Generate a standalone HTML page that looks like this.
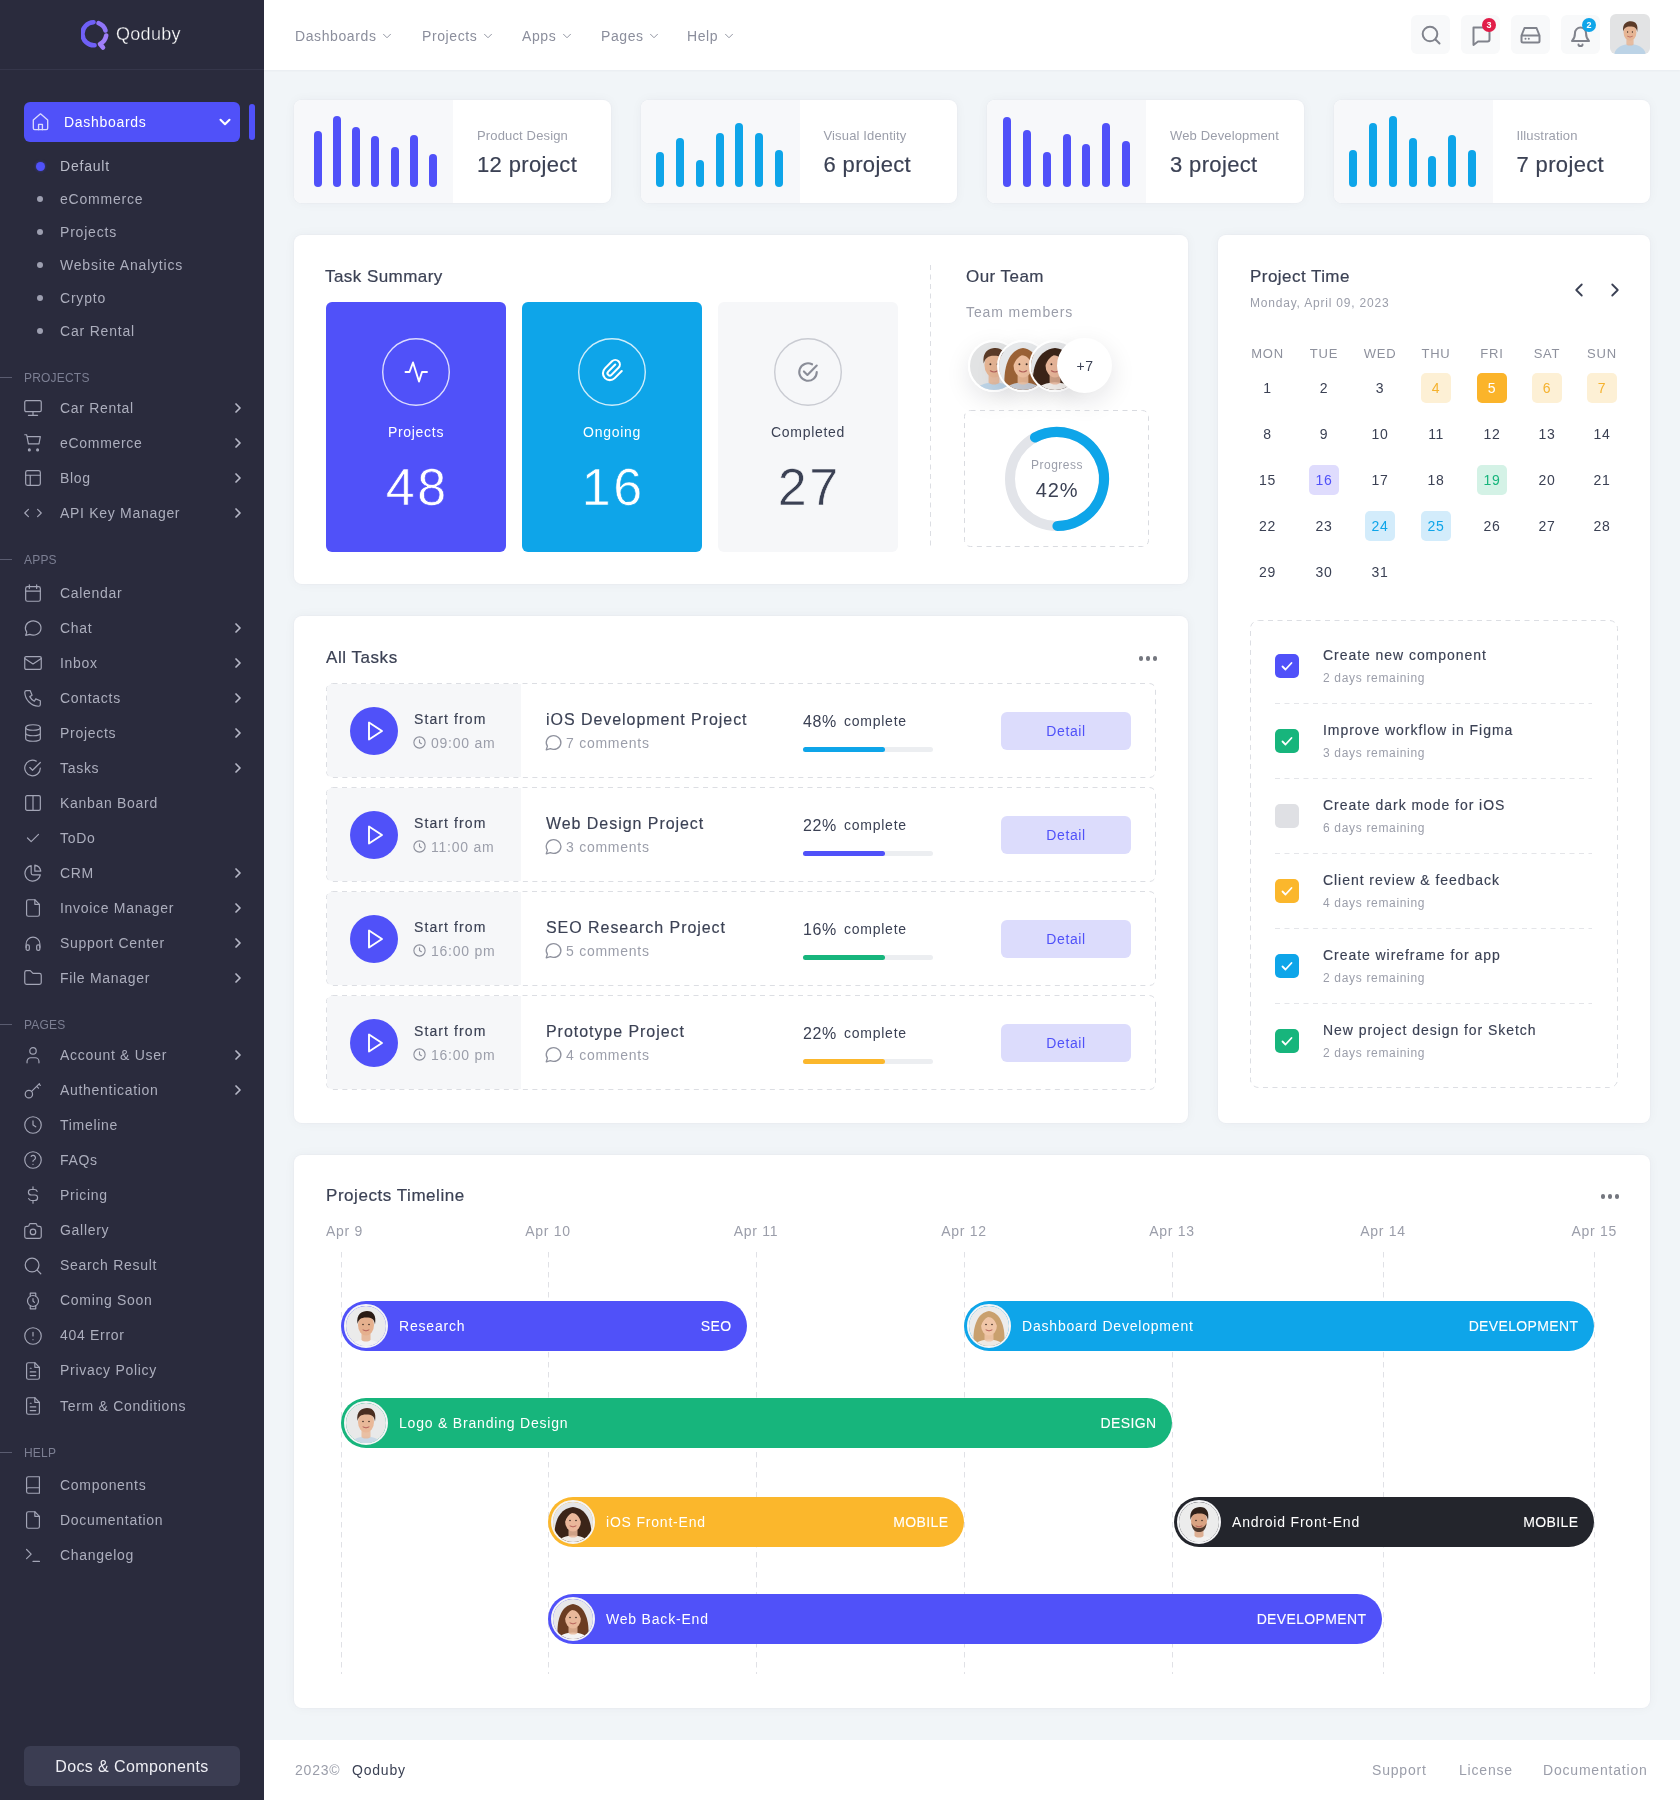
<!DOCTYPE html>
<html><head><meta charset="utf-8"><title>Qoduby Dashboard</title><style>
*{margin:0;padding:0;box-sizing:border-box}
html,body{width:1680px;height:1800px;overflow:hidden;background:#f1f5f8;font-family:"Liberation Sans",sans-serif;}
.a{position:absolute}
.t{position:absolute;white-space:nowrap}
</style></head><body>
<div id="root" style="position:absolute;left:0;top:0;width:1680px;height:1800px;will-change:transform"><div class="a" style="left:0px;top:0px;width:264px;height:1800px;background:#2a2b3d;border-radius:0px;"></div>
<div class="a" style="left:0px;top:69px;width:264px;height:1px;background:#35364a;border-radius:0px;"></div>
<svg class="a" style="left:81px;top:19px;" width="30" height="32" viewBox="0 0 30 32" fill="none"><defs><linearGradient id="lg" x1="0" y1="0" x2="1" y2="1"><stop offset="0" stop-color="#6a5cf6"/><stop offset="1" stop-color="#a07ef9"/></linearGradient></defs><path d="M12.5 3.2 A11.5 11.5 0 1 0 13.5 26.3" stroke="#6f60f7" stroke-width="4.6" stroke-linecap="round"/><path d="M17.5 4.2 A11.5 11.5 0 0 1 24.5 11.5" stroke="#8f74f8" stroke-width="4.6" stroke-linecap="round"/><path d="M25.2 16.5 A11.5 11.5 0 0 1 19 25 L22 28.5" stroke="#a07ef9" stroke-width="4.6" stroke-linecap="round" stroke-linejoin="round"/></svg>
<div class="t " style="left:116px;top:23.0px;font-size:18px;line-height:22px;color:#ffffff;letter-spacing:0.3px;-webkit-text-stroke:0.3px #2a2b3d;">Qoduby</div>
<div class="a" style="left:24px;top:102px;width:216px;height:40px;background:#5051f9;border-radius:6px;"></div>
<div class="a" style="left:249px;top:104px;width:6px;height:36px;background:#5051f9;border-radius:3px;"></div>
<svg class="a" style="left:29px;top:110px;color:#d9d9fd;" width="23" height="23" viewBox="0 0 24 24" fill="none" stroke="currentColor" stroke-width="1.4" stroke-linecap="round" stroke-linejoin="round"><path d="M4.5 10.5L12 4l7.5 6.5V19a1.5 1.5 0 0 1-1.5 1.5H6A1.5 1.5 0 0 1 4.5 19z"/><path d="M10 20.5v-5.5h4v5.5"/></svg>
<div class="t " style="left:64px;top:113.5px;font-size:14px;line-height:17px;color:#ffffff;letter-spacing:0.7px;">Dashboards</div>
<svg class="a" style="left:216px;top:113px;color:#ffffff;" width="18" height="18" viewBox="0 0 24 24" fill="none" stroke="currentColor" stroke-width="2.8" stroke-linecap="round" stroke-linejoin="round"><path d="M6 9l6 6 6-6"/></svg>
<div class="a" style="left:35.5px;top:161.5px;width:9px;height:9px;background:#5051f9;border-radius:5px;box-shadow:0 0 3px rgba(80,81,249,.5);"></div>
<div class="t " style="left:60px;top:157.5px;font-size:14px;line-height:17px;color:#b9bbc8;letter-spacing:0.8px;">Default</div>
<div class="a" style="left:37px;top:196px;width:6px;height:6px;background:#9d9fb0;border-radius:3px;"></div>
<div class="t " style="left:60px;top:190.5px;font-size:14px;line-height:17px;color:#acaebd;letter-spacing:0.8px;">eCommerce</div>
<div class="a" style="left:37px;top:229px;width:6px;height:6px;background:#9d9fb0;border-radius:3px;"></div>
<div class="t " style="left:60px;top:223.5px;font-size:14px;line-height:17px;color:#acaebd;letter-spacing:0.8px;">Projects</div>
<div class="a" style="left:37px;top:262px;width:6px;height:6px;background:#9d9fb0;border-radius:3px;"></div>
<div class="t " style="left:60px;top:256.5px;font-size:14px;line-height:17px;color:#acaebd;letter-spacing:0.8px;">Website Analytics</div>
<div class="a" style="left:37px;top:295px;width:6px;height:6px;background:#9d9fb0;border-radius:3px;"></div>
<div class="t " style="left:60px;top:289.5px;font-size:14px;line-height:17px;color:#acaebd;letter-spacing:0.8px;">Crypto</div>
<div class="a" style="left:37px;top:328px;width:6px;height:6px;background:#9d9fb0;border-radius:3px;"></div>
<div class="t " style="left:60px;top:322.5px;font-size:14px;line-height:17px;color:#acaebd;letter-spacing:0.8px;">Car Rental</div>
<div class="a" style="left:0px;top:377px;width:12px;height:1px;background:#5a5c70;border-radius:0px;"></div>
<div class="t " style="left:24px;top:371.0px;font-size:12px;line-height:14px;color:#7c7f93;letter-spacing:0.2px;">PROJECTS</div>
<svg class="a" style="left:21.5px;top:397px;color:#a3a5b6;" width="22" height="22" viewBox="0 0 24 24" fill="none" stroke="currentColor" stroke-width="1.3" stroke-linecap="round" stroke-linejoin="round"><rect x="3" y="4" width="18" height="12" rx="1.5"/><path d="M7 20h10M12 16v4"/></svg>
<div class="t " style="left:60px;top:399.5px;font-size:14px;line-height:17px;color:#acaebd;letter-spacing:0.7px;">Car Rental</div>
<svg class="a" style="left:229.5px;top:400px;color:#b5b7c6;" width="16" height="16" viewBox="0 0 24 24" fill="none" stroke="currentColor" stroke-width="2.6" stroke-linecap="round" stroke-linejoin="round"><path d="M9 6l6 6-6 6"/></svg>
<svg class="a" style="left:21.5px;top:432px;color:#a3a5b6;" width="22" height="22" viewBox="0 0 24 24" fill="none" stroke="currentColor" stroke-width="1.3" stroke-linecap="round" stroke-linejoin="round"><path d="M3 3h2l.5 2M5.5 5H20l-1.5 8H7zM7 13L5.5 5M7 13h11"/><circle cx="8" cy="19.5" r="1" fill="currentColor"/><circle cx="17" cy="19.5" r="1" fill="currentColor"/></svg>
<div class="t " style="left:60px;top:434.5px;font-size:14px;line-height:17px;color:#acaebd;letter-spacing:0.7px;">eCommerce</div>
<svg class="a" style="left:229.5px;top:435px;color:#b5b7c6;" width="16" height="16" viewBox="0 0 24 24" fill="none" stroke="currentColor" stroke-width="2.6" stroke-linecap="round" stroke-linejoin="round"><path d="M9 6l6 6-6 6"/></svg>
<svg class="a" style="left:21.5px;top:467px;color:#a3a5b6;" width="22" height="22" viewBox="0 0 24 24" fill="none" stroke="currentColor" stroke-width="1.3" stroke-linecap="round" stroke-linejoin="round"><rect x="4" y="4" width="16" height="16" rx="2"/><path d="M4 9h16M9 9v11"/></svg>
<div class="t " style="left:60px;top:469.5px;font-size:14px;line-height:17px;color:#acaebd;letter-spacing:0.7px;">Blog</div>
<svg class="a" style="left:229.5px;top:470px;color:#b5b7c6;" width="16" height="16" viewBox="0 0 24 24" fill="none" stroke="currentColor" stroke-width="2.6" stroke-linecap="round" stroke-linejoin="round"><path d="M9 6l6 6-6 6"/></svg>
<svg class="a" style="left:21.5px;top:502px;color:#a3a5b6;" width="22" height="22" viewBox="0 0 24 24" fill="none" stroke="currentColor" stroke-width="1.3" stroke-linecap="round" stroke-linejoin="round"><path d="M7 8l-4 4 4 4M17 8l4 4-4 4"/></svg>
<div class="t " style="left:60px;top:504.5px;font-size:14px;line-height:17px;color:#acaebd;letter-spacing:0.7px;">API Key Manager</div>
<svg class="a" style="left:229.5px;top:505px;color:#b5b7c6;" width="16" height="16" viewBox="0 0 24 24" fill="none" stroke="currentColor" stroke-width="2.6" stroke-linecap="round" stroke-linejoin="round"><path d="M9 6l6 6-6 6"/></svg>
<div class="a" style="left:0px;top:559px;width:12px;height:1px;background:#5a5c70;border-radius:0px;"></div>
<div class="t " style="left:24px;top:553.0px;font-size:12px;line-height:14px;color:#7c7f93;letter-spacing:0.2px;">APPS</div>
<svg class="a" style="left:21.5px;top:582px;color:#a3a5b6;" width="22" height="22" viewBox="0 0 24 24" fill="none" stroke="currentColor" stroke-width="1.3" stroke-linecap="round" stroke-linejoin="round"><rect x="4" y="5" width="16" height="16" rx="2"/><path d="M16 3v4M8 3v4M4 10h16"/></svg>
<div class="t " style="left:60px;top:584.5px;font-size:14px;line-height:17px;color:#acaebd;letter-spacing:0.7px;">Calendar</div>
<svg class="a" style="left:21.5px;top:617px;color:#a3a5b6;" width="22" height="22" viewBox="0 0 24 24" fill="none" stroke="currentColor" stroke-width="1.3" stroke-linecap="round" stroke-linejoin="round"><path d="M4 20l1.2-3.6A8.5 7.8 0 1 1 8.5 19z"/></svg>
<div class="t " style="left:60px;top:619.5px;font-size:14px;line-height:17px;color:#acaebd;letter-spacing:0.7px;">Chat</div>
<svg class="a" style="left:229.5px;top:620px;color:#b5b7c6;" width="16" height="16" viewBox="0 0 24 24" fill="none" stroke="currentColor" stroke-width="2.6" stroke-linecap="round" stroke-linejoin="round"><path d="M9 6l6 6-6 6"/></svg>
<svg class="a" style="left:21.5px;top:652px;color:#a3a5b6;" width="22" height="22" viewBox="0 0 24 24" fill="none" stroke="currentColor" stroke-width="1.3" stroke-linecap="round" stroke-linejoin="round"><rect x="3" y="5" width="18" height="14" rx="1.5"/><path d="M3 7l9 6 9-6"/></svg>
<div class="t " style="left:60px;top:654.5px;font-size:14px;line-height:17px;color:#acaebd;letter-spacing:0.7px;">Inbox</div>
<svg class="a" style="left:229.5px;top:655px;color:#b5b7c6;" width="16" height="16" viewBox="0 0 24 24" fill="none" stroke="currentColor" stroke-width="2.6" stroke-linecap="round" stroke-linejoin="round"><path d="M9 6l6 6-6 6"/></svg>
<svg class="a" style="left:21.5px;top:687px;color:#a3a5b6;" width="22" height="22" viewBox="0 0 24 24" fill="none" stroke="currentColor" stroke-width="1.3" stroke-linecap="round" stroke-linejoin="round"><path d="M5 4h4l2 5-2.5 1.5a11 11 0 0 0 5 5L15 13l5 2v4a2 2 0 0 1-2 2A16 16 0 0 1 3 6a2 2 0 0 1 2-2"/></svg>
<div class="t " style="left:60px;top:689.5px;font-size:14px;line-height:17px;color:#acaebd;letter-spacing:0.7px;">Contacts</div>
<svg class="a" style="left:229.5px;top:690px;color:#b5b7c6;" width="16" height="16" viewBox="0 0 24 24" fill="none" stroke="currentColor" stroke-width="2.6" stroke-linecap="round" stroke-linejoin="round"><path d="M9 6l6 6-6 6"/></svg>
<svg class="a" style="left:21.5px;top:722px;color:#a3a5b6;" width="22" height="22" viewBox="0 0 24 24" fill="none" stroke="currentColor" stroke-width="1.3" stroke-linecap="round" stroke-linejoin="round"><ellipse cx="12" cy="6" rx="8" ry="3"/><path d="M4 6v6a8 3 0 0 0 16 0V6M4 12v6a8 3 0 0 0 16 0v-6"/></svg>
<div class="t " style="left:60px;top:724.5px;font-size:14px;line-height:17px;color:#acaebd;letter-spacing:0.7px;">Projects</div>
<svg class="a" style="left:229.5px;top:725px;color:#b5b7c6;" width="16" height="16" viewBox="0 0 24 24" fill="none" stroke="currentColor" stroke-width="2.6" stroke-linecap="round" stroke-linejoin="round"><path d="M9 6l6 6-6 6"/></svg>
<svg class="a" style="left:21.5px;top:757px;color:#a3a5b6;" width="22" height="22" viewBox="0 0 24 24" fill="none" stroke="currentColor" stroke-width="1.3" stroke-linecap="round" stroke-linejoin="round"><path d="M20 12a8.5 8.5 0 1 1-4.5-7.5"/><path d="M8.5 11.5l3 3 8.5-8.5"/></svg>
<div class="t " style="left:60px;top:759.5px;font-size:14px;line-height:17px;color:#acaebd;letter-spacing:0.7px;">Tasks</div>
<svg class="a" style="left:229.5px;top:760px;color:#b5b7c6;" width="16" height="16" viewBox="0 0 24 24" fill="none" stroke="currentColor" stroke-width="2.6" stroke-linecap="round" stroke-linejoin="round"><path d="M9 6l6 6-6 6"/></svg>
<svg class="a" style="left:21.5px;top:792px;color:#a3a5b6;" width="22" height="22" viewBox="0 0 24 24" fill="none" stroke="currentColor" stroke-width="1.3" stroke-linecap="round" stroke-linejoin="round"><rect x="4" y="4" width="16" height="16" rx="1.5"/><path d="M12 4v16"/></svg>
<div class="t " style="left:60px;top:794.5px;font-size:14px;line-height:17px;color:#acaebd;letter-spacing:0.7px;">Kanban Board</div>
<svg class="a" style="left:21.5px;top:827px;color:#a3a5b6;" width="22" height="22" viewBox="0 0 24 24" fill="none" stroke="currentColor" stroke-width="1.3" stroke-linecap="round" stroke-linejoin="round"><path d="M6 12l4 4 8-8"/></svg>
<div class="t " style="left:60px;top:829.5px;font-size:14px;line-height:17px;color:#acaebd;letter-spacing:0.7px;">ToDo</div>
<svg class="a" style="left:21.5px;top:862px;color:#a3a5b6;" width="22" height="22" viewBox="0 0 24 24" fill="none" stroke="currentColor" stroke-width="1.3" stroke-linecap="round" stroke-linejoin="round"><path d="M10 4a8.5 8.5 0 1 0 10 10h-8a2 2 0 0 1-2-2z"/><path d="M14 3.5a8 8 0 0 1 6.5 6.5H14z"/></svg>
<div class="t " style="left:60px;top:864.5px;font-size:14px;line-height:17px;color:#acaebd;letter-spacing:0.7px;">CRM</div>
<svg class="a" style="left:229.5px;top:865px;color:#b5b7c6;" width="16" height="16" viewBox="0 0 24 24" fill="none" stroke="currentColor" stroke-width="2.6" stroke-linecap="round" stroke-linejoin="round"><path d="M9 6l6 6-6 6"/></svg>
<svg class="a" style="left:21.5px;top:897px;color:#a3a5b6;" width="22" height="22" viewBox="0 0 24 24" fill="none" stroke="currentColor" stroke-width="1.3" stroke-linecap="round" stroke-linejoin="round"><path d="M14 3v5h5"/><path d="M17 21H7a2 2 0 0 1-2-2V5a2 2 0 0 1 2-2h7l5 5v11a2 2 0 0 1-2 2z"/></svg>
<div class="t " style="left:60px;top:899.5px;font-size:14px;line-height:17px;color:#acaebd;letter-spacing:0.7px;">Invoice Manager</div>
<svg class="a" style="left:229.5px;top:900px;color:#b5b7c6;" width="16" height="16" viewBox="0 0 24 24" fill="none" stroke="currentColor" stroke-width="2.6" stroke-linecap="round" stroke-linejoin="round"><path d="M9 6l6 6-6 6"/></svg>
<svg class="a" style="left:21.5px;top:932px;color:#a3a5b6;" width="22" height="22" viewBox="0 0 24 24" fill="none" stroke="currentColor" stroke-width="1.3" stroke-linecap="round" stroke-linejoin="round"><path d="M4.5 17v-4a7.5 7.5 0 0 1 15 0v4"/><rect x="4.5" y="14" width="3.5" height="6" rx="1.5"/><rect x="16" y="14" width="3.5" height="6" rx="1.5"/></svg>
<div class="t " style="left:60px;top:934.5px;font-size:14px;line-height:17px;color:#acaebd;letter-spacing:0.7px;">Support Center</div>
<svg class="a" style="left:229.5px;top:935px;color:#b5b7c6;" width="16" height="16" viewBox="0 0 24 24" fill="none" stroke="currentColor" stroke-width="2.6" stroke-linecap="round" stroke-linejoin="round"><path d="M9 6l6 6-6 6"/></svg>
<svg class="a" style="left:21.5px;top:967px;color:#a3a5b6;" width="22" height="22" viewBox="0 0 24 24" fill="none" stroke="currentColor" stroke-width="1.3" stroke-linecap="round" stroke-linejoin="round"><path d="M5 4h4l3 3h7a2 2 0 0 1 2 2v8a2 2 0 0 1-2 2H5a2 2 0 0 1-2-2V6a2 2 0 0 1 2-2"/></svg>
<div class="t " style="left:60px;top:969.5px;font-size:14px;line-height:17px;color:#acaebd;letter-spacing:0.7px;">File Manager</div>
<svg class="a" style="left:229.5px;top:970px;color:#b5b7c6;" width="16" height="16" viewBox="0 0 24 24" fill="none" stroke="currentColor" stroke-width="2.6" stroke-linecap="round" stroke-linejoin="round"><path d="M9 6l6 6-6 6"/></svg>
<div class="a" style="left:0px;top:1024px;width:12px;height:1px;background:#5a5c70;border-radius:0px;"></div>
<div class="t " style="left:24px;top:1018.0px;font-size:12px;line-height:14px;color:#7c7f93;letter-spacing:0.2px;">PAGES</div>
<svg class="a" style="left:21.5px;top:1044.0px;color:#a3a5b6;" width="22" height="22" viewBox="0 0 24 24" fill="none" stroke="currentColor" stroke-width="1.3" stroke-linecap="round" stroke-linejoin="round"><circle cx="12" cy="7.5" r="3.5"/><path d="M5.5 20.5v-1.5a4 4 0 0 1 4-4h5a4 4 0 0 1 4 4v1.5"/></svg>
<div class="t " style="left:60px;top:1046.5px;font-size:14px;line-height:17px;color:#acaebd;letter-spacing:0.7px;">Account &amp; User</div>
<svg class="a" style="left:229.5px;top:1047.0px;color:#b5b7c6;" width="16" height="16" viewBox="0 0 24 24" fill="none" stroke="currentColor" stroke-width="2.6" stroke-linecap="round" stroke-linejoin="round"><path d="M9 6l6 6-6 6"/></svg>
<svg class="a" style="left:21.5px;top:1079.1px;color:#a3a5b6;" width="22" height="22" viewBox="0 0 24 24" fill="none" stroke="currentColor" stroke-width="1.3" stroke-linecap="round" stroke-linejoin="round"><circle cx="7.5" cy="16.5" r="4"/><path d="M10.5 13.5L19 5M16 8l2 2M18.5 5.5l1.5 1.5"/></svg>
<div class="t " style="left:60px;top:1081.6px;font-size:14px;line-height:17px;color:#acaebd;letter-spacing:0.7px;">Authentication</div>
<svg class="a" style="left:229.5px;top:1082.1px;color:#b5b7c6;" width="16" height="16" viewBox="0 0 24 24" fill="none" stroke="currentColor" stroke-width="2.6" stroke-linecap="round" stroke-linejoin="round"><path d="M9 6l6 6-6 6"/></svg>
<svg class="a" style="left:21.5px;top:1114.2px;color:#a3a5b6;" width="22" height="22" viewBox="0 0 24 24" fill="none" stroke="currentColor" stroke-width="1.3" stroke-linecap="round" stroke-linejoin="round"><circle cx="12" cy="12" r="9"/><path d="M12 7.5v4.5l3 2"/></svg>
<div class="t " style="left:60px;top:1116.7px;font-size:14px;line-height:17px;color:#acaebd;letter-spacing:0.7px;">Timeline</div>
<svg class="a" style="left:21.5px;top:1149.3px;color:#a3a5b6;" width="22" height="22" viewBox="0 0 24 24" fill="none" stroke="currentColor" stroke-width="1.3" stroke-linecap="round" stroke-linejoin="round"><circle cx="12" cy="12" r="9"/><path d="M12 16.8v.1M12 13.5a1.5 1.5 0 0 1 1-1.5 2.6 2.6 0 1 0-3-4"/></svg>
<div class="t " style="left:60px;top:1151.8px;font-size:14px;line-height:17px;color:#acaebd;letter-spacing:0.7px;">FAQs</div>
<svg class="a" style="left:21.5px;top:1184.4px;color:#a3a5b6;" width="22" height="22" viewBox="0 0 24 24" fill="none" stroke="currentColor" stroke-width="1.3" stroke-linecap="round" stroke-linejoin="round"><path d="M16.5 8a3 3 0 0 0-2.7-2H10a3 3 0 0 0 0 6h4a3 3 0 0 1 0 6h-4a3 3 0 0 1-2.7-2M12 3v3M12 18v3"/></svg>
<div class="t " style="left:60px;top:1186.9px;font-size:14px;line-height:17px;color:#acaebd;letter-spacing:0.7px;">Pricing</div>
<svg class="a" style="left:21.5px;top:1219.5px;color:#a3a5b6;" width="22" height="22" viewBox="0 0 24 24" fill="none" stroke="currentColor" stroke-width="1.3" stroke-linecap="round" stroke-linejoin="round"><path d="M5 7h1a2 2 0 0 0 2-2 1 1 0 0 1 1-1h6a1 1 0 0 1 1 1 2 2 0 0 0 2 2h1a2 2 0 0 1 2 2v9a2 2 0 0 1-2 2H5a2 2 0 0 1-2-2V9a2 2 0 0 1 2-2"/><circle cx="12" cy="13" r="3"/></svg>
<div class="t " style="left:60px;top:1222.0px;font-size:14px;line-height:17px;color:#acaebd;letter-spacing:0.7px;">Gallery</div>
<svg class="a" style="left:21.5px;top:1254.6px;color:#a3a5b6;" width="22" height="22" viewBox="0 0 24 24" fill="none" stroke="currentColor" stroke-width="1.3" stroke-linecap="round" stroke-linejoin="round"><circle cx="11" cy="11" r="7.5"/><path d="M20.5 20.5l-4-4"/></svg>
<div class="t " style="left:60px;top:1257.1px;font-size:14px;line-height:17px;color:#acaebd;letter-spacing:0.7px;">Search Result</div>
<svg class="a" style="left:21.5px;top:1289.7px;color:#a3a5b6;" width="22" height="22" viewBox="0 0 24 24" fill="none" stroke="currentColor" stroke-width="1.3" stroke-linecap="round" stroke-linejoin="round"><circle cx="12" cy="12" r="6"/><path d="M9 6.5V3.5h6v3M9 17.5v3h6v-3M12 9.5V12l1.5 1.5"/></svg>
<div class="t " style="left:60px;top:1292.2px;font-size:14px;line-height:17px;color:#acaebd;letter-spacing:0.7px;">Coming Soon</div>
<svg class="a" style="left:21.5px;top:1324.8px;color:#a3a5b6;" width="22" height="22" viewBox="0 0 24 24" fill="none" stroke="currentColor" stroke-width="1.3" stroke-linecap="round" stroke-linejoin="round"><circle cx="12" cy="12" r="9"/><path d="M12 8v4M12 16v.1"/></svg>
<div class="t " style="left:60px;top:1327.3px;font-size:14px;line-height:17px;color:#acaebd;letter-spacing:0.7px;">404 Error</div>
<svg class="a" style="left:21.5px;top:1359.9px;color:#a3a5b6;" width="22" height="22" viewBox="0 0 24 24" fill="none" stroke="currentColor" stroke-width="1.3" stroke-linecap="round" stroke-linejoin="round"><path d="M14 3v5h5"/><path d="M17 21H7a2 2 0 0 1-2-2V5a2 2 0 0 1 2-2h7l5 5v11a2 2 0 0 1-2 2z"/><path d="M9 9h1M9 13h6M9 17h6"/></svg>
<div class="t " style="left:60px;top:1362.4px;font-size:14px;line-height:17px;color:#acaebd;letter-spacing:0.7px;">Privacy Policy</div>
<svg class="a" style="left:21.5px;top:1395.0px;color:#a3a5b6;" width="22" height="22" viewBox="0 0 24 24" fill="none" stroke="currentColor" stroke-width="1.3" stroke-linecap="round" stroke-linejoin="round"><path d="M14 3v5h5"/><path d="M17 21H7a2 2 0 0 1-2-2V5a2 2 0 0 1 2-2h7l5 5v11a2 2 0 0 1-2 2z"/><path d="M9 9h1M9 13h6M9 17h6"/></svg>
<div class="t " style="left:60px;top:1397.5px;font-size:14px;line-height:17px;color:#acaebd;letter-spacing:0.7px;">Term &amp; Conditions</div>
<div class="a" style="left:0px;top:1452px;width:12px;height:1px;background:#5a5c70;border-radius:0px;"></div>
<div class="t " style="left:24px;top:1446.0px;font-size:12px;line-height:14px;color:#7c7f93;letter-spacing:0.2px;">HELP</div>
<svg class="a" style="left:21.5px;top:1474px;color:#a3a5b6;" width="22" height="22" viewBox="0 0 24 24" fill="none" stroke="currentColor" stroke-width="1.3" stroke-linecap="round" stroke-linejoin="round"><path d="M5 19V5a2 2 0 0 1 2-2h12v18H7a2 2 0 0 1-2-2zM5 17a2 2 0 0 1 2-2h12"/></svg>
<div class="t " style="left:60px;top:1476.5px;font-size:14px;line-height:17px;color:#acaebd;letter-spacing:0.7px;">Components</div>
<svg class="a" style="left:21.5px;top:1509px;color:#a3a5b6;" width="22" height="22" viewBox="0 0 24 24" fill="none" stroke="currentColor" stroke-width="1.3" stroke-linecap="round" stroke-linejoin="round"><path d="M14 3v5h5"/><path d="M17 21H7a2 2 0 0 1-2-2V5a2 2 0 0 1 2-2h7l5 5v11a2 2 0 0 1-2 2z"/></svg>
<div class="t " style="left:60px;top:1511.5px;font-size:14px;line-height:17px;color:#acaebd;letter-spacing:0.7px;">Documentation</div>
<svg class="a" style="left:21.5px;top:1544px;color:#a3a5b6;" width="22" height="22" viewBox="0 0 24 24" fill="none" stroke="currentColor" stroke-width="1.3" stroke-linecap="round" stroke-linejoin="round"><path d="M5 6l5 5-5 5M12 19h7"/></svg>
<div class="t " style="left:60px;top:1546.5px;font-size:14px;line-height:17px;color:#acaebd;letter-spacing:0.7px;">Changelog</div>
<div class="a" style="left:24px;top:1746px;width:216px;height:40px;background:#3b3d52;border-radius:6px;"></div>
<div class="t " style="left:-168px;width:600px;text-align:center;top:1756.5px;font-size:16px;line-height:19px;color:#eeeef4;letter-spacing:0.4px;">Docs &amp; Components</div>
<div class="a" style="left:264px;top:0px;width:1416px;height:70px;background:#ffffff;border-radius:0px;box-shadow:0 1px 2px rgba(20,30,60,.04);"></div>
<div class="t " style="left:295px;top:27.5px;font-size:14px;line-height:17px;color:#8b8e9c;letter-spacing:0.6px;">Dashboards</div>
<svg class="a" style="left:379.953125px;top:29px;color:#8b8e9c;" width="14" height="14" viewBox="0 0 24 24" fill="none" stroke="currentColor" stroke-width="1.6" stroke-linecap="round" stroke-linejoin="round"><path d="M6 9l6 6 6-6"/></svg>
<div class="t " style="left:422px;top:27.5px;font-size:14px;line-height:17px;color:#8b8e9c;letter-spacing:0.6px;">Projects</div>
<svg class="a" style="left:480.8625px;top:29px;color:#8b8e9c;" width="14" height="14" viewBox="0 0 24 24" fill="none" stroke="currentColor" stroke-width="1.6" stroke-linecap="round" stroke-linejoin="round"><path d="M6 9l6 6 6-6"/></svg>
<div class="t " style="left:522px;top:27.5px;font-size:14px;line-height:17px;color:#8b8e9c;letter-spacing:0.6px;">Apps</div>
<svg class="a" style="left:559.80625px;top:29px;color:#8b8e9c;" width="14" height="14" viewBox="0 0 24 24" fill="none" stroke="currentColor" stroke-width="1.6" stroke-linecap="round" stroke-linejoin="round"><path d="M6 9l6 6 6-6"/></svg>
<div class="t " style="left:601px;top:27.5px;font-size:14px;line-height:17px;color:#8b8e9c;letter-spacing:0.6px;">Pages</div>
<svg class="a" style="left:647.1875px;top:29px;color:#8b8e9c;" width="14" height="14" viewBox="0 0 24 24" fill="none" stroke="currentColor" stroke-width="1.6" stroke-linecap="round" stroke-linejoin="round"><path d="M6 9l6 6 6-6"/></svg>
<div class="t " style="left:687px;top:27.5px;font-size:14px;line-height:17px;color:#8b8e9c;letter-spacing:0.6px;">Help</div>
<svg class="a" style="left:721.68125px;top:29px;color:#8b8e9c;" width="14" height="14" viewBox="0 0 24 24" fill="none" stroke="currentColor" stroke-width="1.6" stroke-linecap="round" stroke-linejoin="round"><path d="M6 9l6 6 6-6"/></svg>
<div class="a" style="left:1411px;top:15px;width:39px;height:39px;background:#f8f9fa;border-radius:6px;"></div>
<div class="a" style="left:1461px;top:15px;width:39px;height:39px;background:#f8f9fa;border-radius:6px;"></div>
<div class="a" style="left:1511px;top:15px;width:39px;height:39px;background:#f8f9fa;border-radius:6px;"></div>
<div class="a" style="left:1561px;top:15px;width:39px;height:39px;background:#f8f9fa;border-radius:6px;"></div>
<svg class="a" style="left:1380px;top:0px;" width="300" height="70" viewBox="0 0 300 70" fill="none"><circle cx="50" cy="34" r="7.3" stroke="#80838c" stroke-width="2"/><path d="M55.5 39.5l4 4" stroke="#80838c" stroke-width="2" stroke-linecap="round"/><path d="M93.5 27.5h14a2 2 0 0 1 2 2v10a2 2 0 0 1-2 2H98l-4.5 3.5z" stroke="#80838c" stroke-width="2" stroke-linejoin="round" transform="translate(0 0)"/><path d="M141.5 35.5l3-7.5h12l3 7.5v5.5a1.5 1.5 0 0 1-1.5 1.5h-15a1.5 1.5 0 0 1-1.5-1.5z M141.5 35.5h18" stroke="#80838c" stroke-width="2" stroke-linejoin="round"/><circle cx="145.5" cy="38.8" r="1" fill="#80838c"/><circle cx="148.8" cy="38.8" r="1" fill="#80838c"/><path d="M195 33a5.5 5.5 0 0 1 11 0c0 4.5 1.5 6.5 3 8H192c1.5-1.5 3-3.5 3-8z" stroke="#80838c" stroke-width="2" stroke-linejoin="round"/><path d="M198.5 44.5a2 1.6 0 0 0 4 0" stroke="#80838c" stroke-width="2" stroke-linecap="round"/></svg>
<div class="a" style="left:1482px;top:18px;width:14px;height:14px;background:#e11d48;border-radius:7px;"></div>
<div class="t " style="left:1189px;width:600px;text-align:center;top:19.5px;font-size:9px;line-height:11px;color:#fff;letter-spacing:0px;font-weight:bold;">3</div>
<div class="a" style="left:1582px;top:18px;width:14px;height:14px;background:#0ea5e9;border-radius:7px;"></div>
<div class="t " style="left:1289px;width:600px;text-align:center;top:19.5px;font-size:9px;line-height:11px;color:#fff;letter-spacing:0px;font-weight:bold;">2</div>
<div class="a" style="left:1610px;top:14px;width:40px;height:40px;border-radius:6px;overflow:hidden;"><svg width="40" height="40" viewBox="0 0 100 100" style="display:block"><rect width="100" height="100" fill="#e2e3e4"/><path d="M10 104 C12 84 30 76 50 75 C70 76 88 84 90 104z" fill="#bcd3e6"/><path d="M41 56 h18 v20 c-4 4-14 4-18 0z" fill="#e6b594" opacity=".85"/><ellipse cx="50" cy="46" rx="16" ry="21" fill="#e6b594"/><path d="M33 44 C30 24 42 18 52 18 C65 18 71 27 68 45 C66 34 62 31 50 31 C40 31 35 35 33 44z" fill="#5b3b28"/><circle cx="44" cy="45" r="1.6" fill="#3a2a22"/><circle cx="56" cy="45" r="1.6" fill="#3a2a22"/><path d="M44 56 q6 4 12 0" stroke="#b5615a" stroke-width="2" fill="none" stroke-linecap="round"/></svg></div>
<div class="a" style="left:294px;top:100px;width:316.5px;height:103px;background:#ffffff;border-radius:8px;box-shadow:0 0 0 1px rgba(228,228,232,.28), 0 0 12px rgba(50,50,60,.045);"></div>
<div class="a" style="left:294px;top:100px;width:159px;height:103px;background:#f7f8fa;border-radius:8px;border-top-right-radius:0;border-bottom-right-radius:0;"></div>
<div class="a" style="left:314px;top:131px;width:8px;height:56px;background:#5051f9;border-radius:4px;"></div>
<div class="a" style="left:333px;top:116px;width:8px;height:71px;background:#5051f9;border-radius:4px;"></div>
<div class="a" style="left:352px;top:127px;width:8px;height:60px;background:#5051f9;border-radius:4px;"></div>
<div class="a" style="left:371px;top:136px;width:8px;height:51px;background:#5051f9;border-radius:4px;"></div>
<div class="a" style="left:391px;top:147px;width:8px;height:40px;background:#5051f9;border-radius:4px;"></div>
<div class="a" style="left:410px;top:135px;width:8px;height:52px;background:#5051f9;border-radius:4px;"></div>
<div class="a" style="left:429px;top:154px;width:8px;height:33px;background:#5051f9;border-radius:4px;"></div>
<div class="t " style="left:477px;top:128.0px;font-size:13px;line-height:16px;color:#9b9eaa;letter-spacing:0.15px;">Product Design</div>
<div class="t " style="left:477px;top:152.0px;font-size:22px;line-height:26px;color:#3b4154;letter-spacing:0.35px;-webkit-text-stroke:0.2px;">12 project</div>
<div class="a" style="left:640.5px;top:100px;width:316.5px;height:103px;background:#ffffff;border-radius:8px;box-shadow:0 0 0 1px rgba(228,228,232,.28), 0 0 12px rgba(50,50,60,.045);"></div>
<div class="a" style="left:640.5px;top:100px;width:159px;height:103px;background:#f7f8fa;border-radius:8px;border-top-right-radius:0;border-bottom-right-radius:0;"></div>
<div class="a" style="left:656px;top:152px;width:8px;height:35px;background:#0ea5e9;border-radius:4px;"></div>
<div class="a" style="left:676px;top:138px;width:8px;height:49px;background:#0ea5e9;border-radius:4px;"></div>
<div class="a" style="left:696px;top:160px;width:8px;height:27px;background:#0ea5e9;border-radius:4px;"></div>
<div class="a" style="left:716px;top:133px;width:8px;height:54px;background:#0ea5e9;border-radius:4px;"></div>
<div class="a" style="left:735px;top:123px;width:8px;height:64px;background:#0ea5e9;border-radius:4px;"></div>
<div class="a" style="left:755px;top:133px;width:8px;height:54px;background:#0ea5e9;border-radius:4px;"></div>
<div class="a" style="left:775px;top:150px;width:8px;height:37px;background:#0ea5e9;border-radius:4px;"></div>
<div class="t " style="left:823.5px;top:128.0px;font-size:13px;line-height:16px;color:#9b9eaa;letter-spacing:0.15px;">Visual Identity</div>
<div class="t " style="left:823.5px;top:152.0px;font-size:22px;line-height:26px;color:#3b4154;letter-spacing:0.35px;-webkit-text-stroke:0.2px;">6 project</div>
<div class="a" style="left:987px;top:100px;width:316.5px;height:103px;background:#ffffff;border-radius:8px;box-shadow:0 0 0 1px rgba(228,228,232,.28), 0 0 12px rgba(50,50,60,.045);"></div>
<div class="a" style="left:987px;top:100px;width:159px;height:103px;background:#f7f8fa;border-radius:8px;border-top-right-radius:0;border-bottom-right-radius:0;"></div>
<div class="a" style="left:1003px;top:117px;width:8px;height:70px;background:#5051f9;border-radius:4px;"></div>
<div class="a" style="left:1023px;top:130px;width:8px;height:57px;background:#5051f9;border-radius:4px;"></div>
<div class="a" style="left:1043px;top:152px;width:8px;height:35px;background:#5051f9;border-radius:4px;"></div>
<div class="a" style="left:1063px;top:134px;width:8px;height:53px;background:#5051f9;border-radius:4px;"></div>
<div class="a" style="left:1082px;top:144px;width:8px;height:43px;background:#5051f9;border-radius:4px;"></div>
<div class="a" style="left:1102px;top:123px;width:8px;height:64px;background:#5051f9;border-radius:4px;"></div>
<div class="a" style="left:1122px;top:141px;width:8px;height:46px;background:#5051f9;border-radius:4px;"></div>
<div class="t " style="left:1170px;top:128.0px;font-size:13px;line-height:16px;color:#9b9eaa;letter-spacing:0.15px;">Web Development</div>
<div class="t " style="left:1170px;top:152.0px;font-size:22px;line-height:26px;color:#3b4154;letter-spacing:0.35px;-webkit-text-stroke:0.2px;">3 project</div>
<div class="a" style="left:1333.5px;top:100px;width:316.5px;height:103px;background:#ffffff;border-radius:8px;box-shadow:0 0 0 1px rgba(228,228,232,.28), 0 0 12px rgba(50,50,60,.045);"></div>
<div class="a" style="left:1333.5px;top:100px;width:159px;height:103px;background:#f7f8fa;border-radius:8px;border-top-right-radius:0;border-bottom-right-radius:0;"></div>
<div class="a" style="left:1349px;top:150px;width:8px;height:37px;background:#0ea5e9;border-radius:4px;"></div>
<div class="a" style="left:1369px;top:123px;width:8px;height:64px;background:#0ea5e9;border-radius:4px;"></div>
<div class="a" style="left:1389px;top:116px;width:8px;height:71px;background:#0ea5e9;border-radius:4px;"></div>
<div class="a" style="left:1409px;top:138px;width:8px;height:49px;background:#0ea5e9;border-radius:4px;"></div>
<div class="a" style="left:1428px;top:156px;width:8px;height:31px;background:#0ea5e9;border-radius:4px;"></div>
<div class="a" style="left:1448px;top:135px;width:8px;height:52px;background:#0ea5e9;border-radius:4px;"></div>
<div class="a" style="left:1468px;top:150px;width:8px;height:37px;background:#0ea5e9;border-radius:4px;"></div>
<div class="t " style="left:1516.5px;top:128.0px;font-size:13px;line-height:16px;color:#9b9eaa;letter-spacing:0.15px;">Illustration</div>
<div class="t " style="left:1516.5px;top:152.0px;font-size:22px;line-height:26px;color:#3b4154;letter-spacing:0.35px;-webkit-text-stroke:0.2px;">7 project</div>
<div class="a" style="left:294px;top:235px;width:894px;height:349px;background:#ffffff;border-radius:8px;box-shadow:0 0 0 1px rgba(228,228,232,.28), 0 0 12px rgba(50,50,60,.045);"></div>
<div class="t " style="left:325px;top:267.0px;font-size:17px;line-height:20px;color:#3b4154;letter-spacing:0.45px;-webkit-text-stroke:0.2px;">Task Summary</div>
<div class="a" style="left:326px;top:302px;width:180px;height:250px;background:#5051f9;border-radius:6px;"></div>
<svg class="a" style="left:382px;top:338px;" width="68" height="68" viewBox="0 0 68 68" fill="none"><circle cx="34" cy="34" r="33.3" stroke="rgba(255,255,255,.8)" stroke-width="1.4"/></svg>
<svg class="a" style="left:404px;top:360px;" width="24" height="24" viewBox="0 0 24 24" fill="none"><path d="M1.5 12h4l3.5-9.5 6 19 3-9.5h5" stroke="#fff" stroke-width="1.9" stroke-linecap="round" stroke-linejoin="round"/></svg>
<div class="t " style="left:116px;width:600px;text-align:center;top:423.5px;font-size:14px;line-height:17px;color:#ffffff;letter-spacing:0.7px;">Projects</div>
<div class="t " style="left:116px;width:600px;text-align:center;top:455.5px;font-size:52px;line-height:62px;color:#ffffff;letter-spacing:2.5px;-webkit-text-stroke:0.6px #5051f9;text-indent:2.5px;">48</div>
<div class="a" style="left:522px;top:302px;width:180px;height:250px;background:#0ea5e9;border-radius:6px;"></div>
<svg class="a" style="left:578px;top:338px;" width="68" height="68" viewBox="0 0 68 68" fill="none"><circle cx="34" cy="34" r="33.3" stroke="rgba(255,255,255,.8)" stroke-width="1.4"/></svg>
<svg class="a" style="left:599px;top:357px;" width="26" height="26" viewBox="0 0 24 24" fill="none"><path d="M15 7l-6.5 6.5a1.5 1.5 0 0 0 3 3L18 10a3 3 0 0 0-6-6l-6.5 6.5a4.5 4.5 0 0 0 9 9L21 13" stroke="#fff" stroke-width="1.95" stroke-linecap="round" stroke-linejoin="round"/></svg>
<div class="t " style="left:312px;width:600px;text-align:center;top:423.5px;font-size:14px;line-height:17px;color:#ffffff;letter-spacing:0.7px;">Ongoing</div>
<div class="t " style="left:312px;width:600px;text-align:center;top:455.5px;font-size:52px;line-height:62px;color:#ffffff;letter-spacing:2.5px;-webkit-text-stroke:0.6px #0ea5e9;text-indent:2.5px;">16</div>
<div class="a" style="left:718px;top:302px;width:180px;height:250px;background:#f6f7f9;border-radius:6px;"></div>
<svg class="a" style="left:774px;top:338px;" width="68" height="68" viewBox="0 0 68 68" fill="none"><circle cx="34" cy="34" r="33.3" stroke="#c9cbd2" stroke-width="1.4"/></svg>
<svg class="a" style="left:794px;top:358px;" width="28" height="28" viewBox="0 0 24 24" fill="none"><path d="M19.5 12a7.5 7.5 0 1 1-4-6.6" stroke="#8a8d98" stroke-width="1.8" stroke-linecap="round"/><path d="M8.5 11.5l3 3 8-8" stroke="#8a8d98" stroke-width="1.8" stroke-linecap="round" stroke-linejoin="round"/></svg>
<div class="t " style="left:508px;width:600px;text-align:center;top:423.5px;font-size:14px;line-height:17px;color:#3b4154;letter-spacing:0.7px;">Completed</div>
<div class="t " style="left:508px;width:600px;text-align:center;top:455.5px;font-size:52px;line-height:62px;color:#3b4154;letter-spacing:2.5px;-webkit-text-stroke:0.6px #f6f7f9;text-indent:2.5px;">27</div>
<svg class="a" style="left:929.5px;top:265px" width="1" height="285" fill="none"><line x1="0.5" y1="0" x2="0.5" y2="285" stroke="#dcdee3" stroke-width="1" stroke-dasharray="5 4.5"/></svg>
<div class="t " style="left:966px;top:267.0px;font-size:17px;line-height:20px;color:#3b4154;letter-spacing:0.45px;-webkit-text-stroke:0.2px;">Our Team</div>
<div class="t " style="left:966px;top:303.5px;font-size:14px;line-height:17px;color:#9b9eaa;letter-spacing:0.9px;">Team members</div>
<div class="a" style="left:968px;top:340px;width:52px;height:52px;border-radius:50%;overflow:hidden;border:2px solid #fff;box-sizing:border-box;box-shadow:0 8px 24px rgba(20,20,40,.10)"><svg width="48" height="48" viewBox="10 8 80 80" style="display:block"><rect width="100" height="100" fill="#e2e3e4"/><path d="M10 104 C12 84 30 76 50 75 C70 76 88 84 90 104z" fill="#bcd3e6"/><path d="M41 56 h18 v20 c-4 4-14 4-18 0z" fill="#e6b594" opacity=".85"/><ellipse cx="50" cy="46" rx="16" ry="21" fill="#e6b594"/><path d="M33 44 C30 24 42 18 52 18 C65 18 71 27 68 45 C66 34 62 31 50 31 C40 31 35 35 33 44z" fill="#5b3b28"/><circle cx="44" cy="45" r="1.6" fill="#3a2a22"/><circle cx="56" cy="45" r="1.6" fill="#3a2a22"/><path d="M44 56 q6 4 12 0" stroke="#b5615a" stroke-width="2" fill="none" stroke-linecap="round"/></svg></div>
<div class="a" style="left:997px;top:340px;width:52px;height:52px;border-radius:50%;overflow:hidden;border:2px solid #fff;box-sizing:border-box;box-shadow:0 8px 24px rgba(20,20,40,.10)"><svg width="48" height="48" viewBox="10 8 80 80" style="display:block"><rect width="100" height="100" fill="#e6e8ea"/><path d="M20 92 C16 60 22 22 50 18 C78 22 84 60 80 92z" fill="#9b6236"/><path d="M10 104 C12 84 30 76 50 75 C70 76 88 84 90 104z" fill="#c4c7cf"/><path d="M41 56 h18 v20 c-4 4-14 4-18 0z" fill="#eebf9f" opacity=".85"/><ellipse cx="50" cy="46" rx="16" ry="21" fill="#eebf9f"/><path d="M34 48 C32 26 42 20 51 20 C62 20 70 28 66 48 C62 36 56 30 48 30 C42 33 37 38 34 48z" fill="#9b6236"/><circle cx="44" cy="45" r="1.6" fill="#3a2a22"/><circle cx="56" cy="45" r="1.6" fill="#3a2a22"/><path d="M44 56 q6 4 12 0" stroke="#b5615a" stroke-width="2" fill="none" stroke-linecap="round"/></svg></div>
<div class="a" style="left:1029px;top:340px;width:52px;height:52px;border-radius:50%;overflow:hidden;border:2px solid #fff;box-sizing:border-box;box-shadow:0 8px 24px rgba(20,20,40,.10)"><svg width="48" height="48" viewBox="10 8 80 80" style="display:block"><rect width="100" height="100" fill="#e4e5e7"/><path d="M14 92 C10 60 16 22 50 18 C84 22 90 60 86 92z" fill="#3b2418"/><path d="M10 104 C12 84 30 76 50 75 C70 76 88 84 90 104z" fill="#f0ece8"/><path d="M41 56 h18 v20 c-4 4-14 4-18 0z" fill="#eab79a" opacity=".85"/><ellipse cx="50" cy="46" rx="16" ry="21" fill="#eab79a"/><path d="M34 48 C32 26 42 20 51 20 C62 20 70 28 66 48 C62 36 56 30 48 30 C42 33 37 38 34 48z" fill="#3b2418"/><circle cx="44" cy="45" r="1.6" fill="#3a2a22"/><circle cx="56" cy="45" r="1.6" fill="#3a2a22"/><path d="M44 56 q6 4 12 0" stroke="#b5615a" stroke-width="2" fill="none" stroke-linecap="round"/></svg></div>
<div class="a" style="left:1057px;top:338px;width:55px;height:55px;background:#ffffff;border-radius:28px;box-shadow:0 8px 26px rgba(20,20,40,.11);"></div>
<div class="t " style="left:785px;width:600px;text-align:center;top:357.5px;font-size:14px;line-height:17px;color:#3b4154;letter-spacing:0.5px;">+7</div>
<svg class="a" style="left:964px;top:410px;" width="185" height="137" fill="none"><rect x="0.5" y="0.5" width="184" height="136" rx="6" stroke="#d9dbe0" stroke-width="1" stroke-dasharray="5 4.5"/></svg>
<svg class="a" style="left:997px;top:419px;" width="120" height="120" viewBox="0 0 120 120" fill="none"><circle cx="60" cy="60" r="47" stroke="#e2e4e9" stroke-width="10"/><circle cx="60" cy="60" r="47" stroke="#0ea5e9" stroke-width="10" stroke-linecap="round" stroke-dasharray="170 400" transform="rotate(-118 60 60)"/></svg>
<div class="t " style="left:757px;width:600px;text-align:center;top:458.0px;font-size:12px;line-height:14px;color:#9b9eaa;letter-spacing:0.5px;">Progress</div>
<div class="t " style="left:757px;width:600px;text-align:center;top:478.0px;font-size:20px;line-height:24px;color:#3b4154;letter-spacing:0.8px;">42%</div>
<div class="a" style="left:1218px;top:235px;width:432px;height:888px;background:#ffffff;border-radius:8px;box-shadow:0 0 0 1px rgba(228,228,232,.28), 0 0 12px rgba(50,50,60,.045);"></div>
<div class="t " style="left:1250px;top:267.0px;font-size:17px;line-height:20px;color:#3b4154;letter-spacing:0.45px;-webkit-text-stroke:0.2px;">Project Time</div>
<div class="t " style="left:1250px;top:296.0px;font-size:12px;line-height:14px;color:#9b9eaa;letter-spacing:0.8px;">Monday, April 09, 2023</div>
<svg class="a" style="left:1568px;top:279px;color:#3b4154;transform:scaleX(-1);" width="22" height="22" viewBox="0 0 24 24" fill="none" stroke="currentColor" stroke-width="2" stroke-linecap="round" stroke-linejoin="round"><path d="M9 6l6 6-6 6"/></svg>
<svg class="a" style="left:1604px;top:279px;color:#3b4154;" width="22" height="22" viewBox="0 0 24 24" fill="none" stroke="currentColor" stroke-width="2" stroke-linecap="round" stroke-linejoin="round"><path d="M9 6l6 6-6 6"/></svg>
<div class="t " style="left:967.5px;width:600px;text-align:center;top:346.0px;font-size:13px;line-height:16px;color:#8e919d;letter-spacing:0.8px;">MON</div>
<div class="t " style="left:1024px;width:600px;text-align:center;top:346.0px;font-size:13px;line-height:16px;color:#8e919d;letter-spacing:0.8px;">TUE</div>
<div class="t " style="left:1080px;width:600px;text-align:center;top:346.0px;font-size:13px;line-height:16px;color:#8e919d;letter-spacing:0.8px;">WED</div>
<div class="t " style="left:1136px;width:600px;text-align:center;top:346.0px;font-size:13px;line-height:16px;color:#8e919d;letter-spacing:0.8px;">THU</div>
<div class="t " style="left:1192px;width:600px;text-align:center;top:346.0px;font-size:13px;line-height:16px;color:#8e919d;letter-spacing:0.8px;">FRI</div>
<div class="t " style="left:1247px;width:600px;text-align:center;top:346.0px;font-size:13px;line-height:16px;color:#8e919d;letter-spacing:0.8px;">SAT</div>
<div class="t " style="left:1302px;width:600px;text-align:center;top:346.0px;font-size:13px;line-height:16px;color:#8e919d;letter-spacing:0.8px;">SUN</div>
<div class="t " style="left:967.5px;width:600px;text-align:center;top:379.5px;font-size:14px;line-height:17px;color:#3b4154;letter-spacing:0.6px;">1</div>
<div class="t " style="left:1024px;width:600px;text-align:center;top:379.5px;font-size:14px;line-height:17px;color:#3b4154;letter-spacing:0.6px;">2</div>
<div class="t " style="left:1080px;width:600px;text-align:center;top:379.5px;font-size:14px;line-height:17px;color:#3b4154;letter-spacing:0.6px;">3</div>
<div class="a" style="left:1421px;top:373px;width:30px;height:30px;background:#fdf0d5;border-radius:5px;"></div>
<div class="t " style="left:1136px;width:600px;text-align:center;top:379.5px;font-size:14px;line-height:17px;color:#f5b22e;letter-spacing:0.6px;">4</div>
<div class="a" style="left:1477px;top:373px;width:30px;height:30px;background:#fbb42a;border-radius:5px;"></div>
<div class="t " style="left:1192px;width:600px;text-align:center;top:379.5px;font-size:14px;line-height:17px;color:#ffffff;letter-spacing:0.6px;">5</div>
<div class="a" style="left:1532px;top:373px;width:30px;height:30px;background:#fdf0d5;border-radius:5px;"></div>
<div class="t " style="left:1247px;width:600px;text-align:center;top:379.5px;font-size:14px;line-height:17px;color:#f5b22e;letter-spacing:0.6px;">6</div>
<div class="a" style="left:1587px;top:373px;width:30px;height:30px;background:#fdf0d5;border-radius:5px;"></div>
<div class="t " style="left:1302px;width:600px;text-align:center;top:379.5px;font-size:14px;line-height:17px;color:#f5b22e;letter-spacing:0.6px;">7</div>
<div class="t " style="left:967.5px;width:600px;text-align:center;top:425.5px;font-size:14px;line-height:17px;color:#3b4154;letter-spacing:0.6px;">8</div>
<div class="t " style="left:1024px;width:600px;text-align:center;top:425.5px;font-size:14px;line-height:17px;color:#3b4154;letter-spacing:0.6px;">9</div>
<div class="t " style="left:1080px;width:600px;text-align:center;top:425.5px;font-size:14px;line-height:17px;color:#3b4154;letter-spacing:0.6px;">10</div>
<div class="t " style="left:1136px;width:600px;text-align:center;top:425.5px;font-size:14px;line-height:17px;color:#3b4154;letter-spacing:0.6px;">11</div>
<div class="t " style="left:1192px;width:600px;text-align:center;top:425.5px;font-size:14px;line-height:17px;color:#3b4154;letter-spacing:0.6px;">12</div>
<div class="t " style="left:1247px;width:600px;text-align:center;top:425.5px;font-size:14px;line-height:17px;color:#3b4154;letter-spacing:0.6px;">13</div>
<div class="t " style="left:1302px;width:600px;text-align:center;top:425.5px;font-size:14px;line-height:17px;color:#3b4154;letter-spacing:0.6px;">14</div>
<div class="t " style="left:967.5px;width:600px;text-align:center;top:471.5px;font-size:14px;line-height:17px;color:#3b4154;letter-spacing:0.6px;">15</div>
<div class="a" style="left:1309px;top:465px;width:30px;height:30px;background:#dfdcfd;border-radius:5px;"></div>
<div class="t " style="left:1024px;width:600px;text-align:center;top:471.5px;font-size:14px;line-height:17px;color:#5051f9;letter-spacing:0.6px;">16</div>
<div class="t " style="left:1080px;width:600px;text-align:center;top:471.5px;font-size:14px;line-height:17px;color:#3b4154;letter-spacing:0.6px;">17</div>
<div class="t " style="left:1136px;width:600px;text-align:center;top:471.5px;font-size:14px;line-height:17px;color:#3b4154;letter-spacing:0.6px;">18</div>
<div class="a" style="left:1477px;top:465px;width:30px;height:30px;background:#d4f2e6;border-radius:5px;"></div>
<div class="t " style="left:1192px;width:600px;text-align:center;top:471.5px;font-size:14px;line-height:17px;color:#17b57c;letter-spacing:0.6px;">19</div>
<div class="t " style="left:1247px;width:600px;text-align:center;top:471.5px;font-size:14px;line-height:17px;color:#3b4154;letter-spacing:0.6px;">20</div>
<div class="t " style="left:1302px;width:600px;text-align:center;top:471.5px;font-size:14px;line-height:17px;color:#3b4154;letter-spacing:0.6px;">21</div>
<div class="t " style="left:967.5px;width:600px;text-align:center;top:517.5px;font-size:14px;line-height:17px;color:#3b4154;letter-spacing:0.6px;">22</div>
<div class="t " style="left:1024px;width:600px;text-align:center;top:517.5px;font-size:14px;line-height:17px;color:#3b4154;letter-spacing:0.6px;">23</div>
<div class="a" style="left:1365px;top:511px;width:30px;height:30px;background:#d3ecfb;border-radius:5px;"></div>
<div class="t " style="left:1080px;width:600px;text-align:center;top:517.5px;font-size:14px;line-height:17px;color:#0ea5e9;letter-spacing:0.6px;">24</div>
<div class="a" style="left:1421px;top:511px;width:30px;height:30px;background:#d3ecfb;border-radius:5px;"></div>
<div class="t " style="left:1136px;width:600px;text-align:center;top:517.5px;font-size:14px;line-height:17px;color:#0ea5e9;letter-spacing:0.6px;">25</div>
<div class="t " style="left:1192px;width:600px;text-align:center;top:517.5px;font-size:14px;line-height:17px;color:#3b4154;letter-spacing:0.6px;">26</div>
<div class="t " style="left:1247px;width:600px;text-align:center;top:517.5px;font-size:14px;line-height:17px;color:#3b4154;letter-spacing:0.6px;">27</div>
<div class="t " style="left:1302px;width:600px;text-align:center;top:517.5px;font-size:14px;line-height:17px;color:#3b4154;letter-spacing:0.6px;">28</div>
<div class="t " style="left:967.5px;width:600px;text-align:center;top:563.5px;font-size:14px;line-height:17px;color:#3b4154;letter-spacing:0.6px;">29</div>
<div class="t " style="left:1024px;width:600px;text-align:center;top:563.5px;font-size:14px;line-height:17px;color:#3b4154;letter-spacing:0.6px;">30</div>
<div class="t " style="left:1080px;width:600px;text-align:center;top:563.5px;font-size:14px;line-height:17px;color:#3b4154;letter-spacing:0.6px;">31</div>
<svg class="a" style="left:1250px;top:620px;" width="368" height="468" fill="none"><rect x="0.5" y="0.5" width="367" height="467" rx="8" stroke="#dcdee3" stroke-width="1" stroke-dasharray="5 4.5"/></svg>
<div class="a" style="left:1275px;top:654px;width:24px;height:24px;background:#5051f9;border-radius:5px;"></div>
<svg class="a" style="left:1279px;top:658px;" width="16" height="16" viewBox="0 0 16 16" fill="none"><path d="M3.5 8.5l3 3 6-6.5" stroke="#fff" stroke-width="1.8" stroke-linecap="round" stroke-linejoin="round"/></svg>
<div class="t " style="left:1323px;top:646.5px;font-size:14px;line-height:17px;color:#3b4154;letter-spacing:0.95px;-webkit-text-stroke:0.15px;">Create new component</div>
<div class="t " style="left:1323px;top:671.0px;font-size:12px;line-height:14px;color:#9b9eaa;letter-spacing:0.67px;">2 days remaining</div>
<svg class="a" style="left:1275px;top:703.0px" width="317" height="1" fill="none"><line x1="0" y1="0.5" x2="317" y2="0.5" stroke="#e4e5e9" stroke-width="1" stroke-dasharray="5 4.5"/></svg>
<div class="a" style="left:1275px;top:729px;width:24px;height:24px;background:#17b57c;border-radius:5px;"></div>
<svg class="a" style="left:1279px;top:733px;" width="16" height="16" viewBox="0 0 16 16" fill="none"><path d="M3.5 8.5l3 3 6-6.5" stroke="#fff" stroke-width="1.8" stroke-linecap="round" stroke-linejoin="round"/></svg>
<div class="t " style="left:1323px;top:721.5px;font-size:14px;line-height:17px;color:#3b4154;letter-spacing:0.95px;-webkit-text-stroke:0.15px;">Improve workflow in Figma</div>
<div class="t " style="left:1323px;top:746.0px;font-size:12px;line-height:14px;color:#9b9eaa;letter-spacing:0.67px;">3 days remaining</div>
<svg class="a" style="left:1275px;top:778.0px" width="317" height="1" fill="none"><line x1="0" y1="0.5" x2="317" y2="0.5" stroke="#e4e5e9" stroke-width="1" stroke-dasharray="5 4.5"/></svg>
<div class="a" style="left:1275px;top:804px;width:24px;height:24px;background:#dfe0e4;border-radius:5px;"></div>
<div class="t " style="left:1323px;top:796.5px;font-size:14px;line-height:17px;color:#3b4154;letter-spacing:0.95px;-webkit-text-stroke:0.15px;">Create dark mode for iOS</div>
<div class="t " style="left:1323px;top:821.0px;font-size:12px;line-height:14px;color:#9b9eaa;letter-spacing:0.67px;">6 days remaining</div>
<svg class="a" style="left:1275px;top:853.0px" width="317" height="1" fill="none"><line x1="0" y1="0.5" x2="317" y2="0.5" stroke="#e4e5e9" stroke-width="1" stroke-dasharray="5 4.5"/></svg>
<div class="a" style="left:1275px;top:879px;width:24px;height:24px;background:#fbb72c;border-radius:5px;"></div>
<svg class="a" style="left:1279px;top:883px;" width="16" height="16" viewBox="0 0 16 16" fill="none"><path d="M3.5 8.5l3 3 6-6.5" stroke="#fff" stroke-width="1.8" stroke-linecap="round" stroke-linejoin="round"/></svg>
<div class="t " style="left:1323px;top:871.5px;font-size:14px;line-height:17px;color:#3b4154;letter-spacing:0.95px;-webkit-text-stroke:0.15px;">Client review &amp; feedback</div>
<div class="t " style="left:1323px;top:896.0px;font-size:12px;line-height:14px;color:#9b9eaa;letter-spacing:0.67px;">4 days remaining</div>
<svg class="a" style="left:1275px;top:928.0px" width="317" height="1" fill="none"><line x1="0" y1="0.5" x2="317" y2="0.5" stroke="#e4e5e9" stroke-width="1" stroke-dasharray="5 4.5"/></svg>
<div class="a" style="left:1275px;top:954px;width:24px;height:24px;background:#0ea5e9;border-radius:5px;"></div>
<svg class="a" style="left:1279px;top:958px;" width="16" height="16" viewBox="0 0 16 16" fill="none"><path d="M3.5 8.5l3 3 6-6.5" stroke="#fff" stroke-width="1.8" stroke-linecap="round" stroke-linejoin="round"/></svg>
<div class="t " style="left:1323px;top:946.5px;font-size:14px;line-height:17px;color:#3b4154;letter-spacing:0.95px;-webkit-text-stroke:0.15px;">Create wireframe for app</div>
<div class="t " style="left:1323px;top:971.0px;font-size:12px;line-height:14px;color:#9b9eaa;letter-spacing:0.67px;">2 days remaining</div>
<svg class="a" style="left:1275px;top:1003.0px" width="317" height="1" fill="none"><line x1="0" y1="0.5" x2="317" y2="0.5" stroke="#e4e5e9" stroke-width="1" stroke-dasharray="5 4.5"/></svg>
<div class="a" style="left:1275px;top:1029px;width:24px;height:24px;background:#17b57c;border-radius:5px;"></div>
<svg class="a" style="left:1279px;top:1033px;" width="16" height="16" viewBox="0 0 16 16" fill="none"><path d="M3.5 8.5l3 3 6-6.5" stroke="#fff" stroke-width="1.8" stroke-linecap="round" stroke-linejoin="round"/></svg>
<div class="t " style="left:1323px;top:1021.5px;font-size:14px;line-height:17px;color:#3b4154;letter-spacing:0.95px;-webkit-text-stroke:0.15px;">New project design for Sketch</div>
<div class="t " style="left:1323px;top:1046.0px;font-size:12px;line-height:14px;color:#9b9eaa;letter-spacing:0.67px;">2 days remaining</div>
<div class="a" style="left:294px;top:616px;width:894px;height:507px;background:#ffffff;border-radius:8px;box-shadow:0 0 0 1px rgba(228,228,232,.28), 0 0 12px rgba(50,50,60,.045);"></div>
<div class="t " style="left:326px;top:648.0px;font-size:17px;line-height:20px;color:#3b4154;letter-spacing:0.55px;-webkit-text-stroke:0.2px;">All Tasks</div>
<div class="a" style="left:1138.5px;top:656px;width:4.5px;height:4.5px;background:#74777f;border-radius:3px;"></div>
<div class="a" style="left:1145.5px;top:656px;width:4.5px;height:4.5px;background:#74777f;border-radius:3px;"></div>
<div class="a" style="left:1152.5px;top:656px;width:4.5px;height:4.5px;background:#74777f;border-radius:3px;"></div>
<svg class="a" style="left:326px;top:683px;" width="830" height="95" fill="none"><rect x="0.5" y="0.5" width="829" height="94" rx="6" stroke="#dcdee3" stroke-width="1" stroke-dasharray="5 4.5"/></svg>
<div class="a" style="left:327px;top:684px;width:194px;height:93px;background:#f6f7f9;border-radius:0px;border-top-left-radius:5px;border-bottom-left-radius:5px;"></div>
<div class="a" style="left:350px;top:707px;width:48px;height:48px;background:#5051f9;border-radius:24px;"></div>
<svg class="a" style="left:362px;top:719px;" width="24" height="24" viewBox="0 0 24 24" fill="none"><path d="M7 3.5v17l13-8.5z" stroke="#fff" stroke-width="1.9" stroke-linejoin="round"/></svg>
<div class="t " style="left:414px;top:710.5px;font-size:14px;line-height:17px;color:#3b4154;letter-spacing:1.1px;-webkit-text-stroke:0.15px;">Start from</div>
<svg class="a" style="left:412px;top:735px;color:#8e919d;" width="15" height="15" viewBox="0 0 24 24" fill="none" stroke="currentColor" stroke-width="1.8" stroke-linecap="round" stroke-linejoin="round"><circle cx="12" cy="12" r="9"/><path d="M12 7.5v4.5l3 2"/></svg>
<div class="t " style="left:431px;top:734.5px;font-size:14px;line-height:17px;color:#9b9eaa;letter-spacing:0.75px;">09:00 am</div>
<div class="t " style="left:546px;top:709.5px;font-size:16px;line-height:19px;color:#3b4154;letter-spacing:0.95px;-webkit-text-stroke:0.15px;">iOS Development Project</div>
<svg class="a" style="left:543px;top:732px;" width="22" height="22" viewBox="0 0 24 24" fill="none"><path d="M3.5 19.5l1.3-4A8 7.5 0 1 1 8 18.2z" stroke="#8e919d" stroke-width="1.4" stroke-linejoin="round"/></svg>
<div class="t " style="left:566px;top:734.5px;font-size:14px;line-height:17px;color:#9b9eaa;letter-spacing:0.75px;">7 comments</div>
<div class="t " style="left:803px;top:711.5px;font-size:16px;line-height:19px;color:#3b4154;letter-spacing:0.6px;">48%</div>
<div class="t " style="left:844px;top:712.5px;font-size:14px;line-height:17px;color:#3b4154;letter-spacing:0.75px;">complete</div>
<div class="a" style="left:803px;top:747px;width:130px;height:5px;background:#eceef1;border-radius:3px;"></div>
<div class="a" style="left:803px;top:747px;width:82px;height:5px;background:#0ea5e9;border-radius:3px;"></div>
<div class="a" style="left:1001px;top:712px;width:130px;height:38px;background:#dcdcfc;border-radius:6px;"></div>
<div class="t " style="left:766px;width:600px;text-align:center;top:722.5px;font-size:14px;line-height:17px;color:#5051f9;letter-spacing:0.6px;">Detail</div>
<svg class="a" style="left:326px;top:787px;" width="830" height="95" fill="none"><rect x="0.5" y="0.5" width="829" height="94" rx="6" stroke="#dcdee3" stroke-width="1" stroke-dasharray="5 4.5"/></svg>
<div class="a" style="left:327px;top:788px;width:194px;height:93px;background:#f6f7f9;border-radius:0px;border-top-left-radius:5px;border-bottom-left-radius:5px;"></div>
<div class="a" style="left:350px;top:811px;width:48px;height:48px;background:#5051f9;border-radius:24px;"></div>
<svg class="a" style="left:362px;top:823px;" width="24" height="24" viewBox="0 0 24 24" fill="none"><path d="M7 3.5v17l13-8.5z" stroke="#fff" stroke-width="1.9" stroke-linejoin="round"/></svg>
<div class="t " style="left:414px;top:814.5px;font-size:14px;line-height:17px;color:#3b4154;letter-spacing:1.1px;-webkit-text-stroke:0.15px;">Start from</div>
<svg class="a" style="left:412px;top:839px;color:#8e919d;" width="15" height="15" viewBox="0 0 24 24" fill="none" stroke="currentColor" stroke-width="1.8" stroke-linecap="round" stroke-linejoin="round"><circle cx="12" cy="12" r="9"/><path d="M12 7.5v4.5l3 2"/></svg>
<div class="t " style="left:431px;top:838.5px;font-size:14px;line-height:17px;color:#9b9eaa;letter-spacing:0.75px;">11:00 am</div>
<div class="t " style="left:546px;top:813.5px;font-size:16px;line-height:19px;color:#3b4154;letter-spacing:0.95px;-webkit-text-stroke:0.15px;">Web Design Project</div>
<svg class="a" style="left:543px;top:836px;" width="22" height="22" viewBox="0 0 24 24" fill="none"><path d="M3.5 19.5l1.3-4A8 7.5 0 1 1 8 18.2z" stroke="#8e919d" stroke-width="1.4" stroke-linejoin="round"/></svg>
<div class="t " style="left:566px;top:838.5px;font-size:14px;line-height:17px;color:#9b9eaa;letter-spacing:0.75px;">3 comments</div>
<div class="t " style="left:803px;top:815.5px;font-size:16px;line-height:19px;color:#3b4154;letter-spacing:0.6px;">22%</div>
<div class="t " style="left:844px;top:816.5px;font-size:14px;line-height:17px;color:#3b4154;letter-spacing:0.75px;">complete</div>
<div class="a" style="left:803px;top:851px;width:130px;height:5px;background:#eceef1;border-radius:3px;"></div>
<div class="a" style="left:803px;top:851px;width:82px;height:5px;background:#5051f9;border-radius:3px;"></div>
<div class="a" style="left:1001px;top:816px;width:130px;height:38px;background:#dcdcfc;border-radius:6px;"></div>
<div class="t " style="left:766px;width:600px;text-align:center;top:826.5px;font-size:14px;line-height:17px;color:#5051f9;letter-spacing:0.6px;">Detail</div>
<svg class="a" style="left:326px;top:891px;" width="830" height="95" fill="none"><rect x="0.5" y="0.5" width="829" height="94" rx="6" stroke="#dcdee3" stroke-width="1" stroke-dasharray="5 4.5"/></svg>
<div class="a" style="left:327px;top:892px;width:194px;height:93px;background:#f6f7f9;border-radius:0px;border-top-left-radius:5px;border-bottom-left-radius:5px;"></div>
<div class="a" style="left:350px;top:915px;width:48px;height:48px;background:#5051f9;border-radius:24px;"></div>
<svg class="a" style="left:362px;top:927px;" width="24" height="24" viewBox="0 0 24 24" fill="none"><path d="M7 3.5v17l13-8.5z" stroke="#fff" stroke-width="1.9" stroke-linejoin="round"/></svg>
<div class="t " style="left:414px;top:918.5px;font-size:14px;line-height:17px;color:#3b4154;letter-spacing:1.1px;-webkit-text-stroke:0.15px;">Start from</div>
<svg class="a" style="left:412px;top:943px;color:#8e919d;" width="15" height="15" viewBox="0 0 24 24" fill="none" stroke="currentColor" stroke-width="1.8" stroke-linecap="round" stroke-linejoin="round"><circle cx="12" cy="12" r="9"/><path d="M12 7.5v4.5l3 2"/></svg>
<div class="t " style="left:431px;top:942.5px;font-size:14px;line-height:17px;color:#9b9eaa;letter-spacing:0.75px;">16:00 pm</div>
<div class="t " style="left:546px;top:917.5px;font-size:16px;line-height:19px;color:#3b4154;letter-spacing:0.95px;-webkit-text-stroke:0.15px;">SEO Research Project</div>
<svg class="a" style="left:543px;top:940px;" width="22" height="22" viewBox="0 0 24 24" fill="none"><path d="M3.5 19.5l1.3-4A8 7.5 0 1 1 8 18.2z" stroke="#8e919d" stroke-width="1.4" stroke-linejoin="round"/></svg>
<div class="t " style="left:566px;top:942.5px;font-size:14px;line-height:17px;color:#9b9eaa;letter-spacing:0.75px;">5 comments</div>
<div class="t " style="left:803px;top:919.5px;font-size:16px;line-height:19px;color:#3b4154;letter-spacing:0.6px;">16%</div>
<div class="t " style="left:844px;top:920.5px;font-size:14px;line-height:17px;color:#3b4154;letter-spacing:0.75px;">complete</div>
<div class="a" style="left:803px;top:955px;width:130px;height:5px;background:#eceef1;border-radius:3px;"></div>
<div class="a" style="left:803px;top:955px;width:82px;height:5px;background:#17b57c;border-radius:3px;"></div>
<div class="a" style="left:1001px;top:920px;width:130px;height:38px;background:#dcdcfc;border-radius:6px;"></div>
<div class="t " style="left:766px;width:600px;text-align:center;top:930.5px;font-size:14px;line-height:17px;color:#5051f9;letter-spacing:0.6px;">Detail</div>
<svg class="a" style="left:326px;top:995px;" width="830" height="95" fill="none"><rect x="0.5" y="0.5" width="829" height="94" rx="6" stroke="#dcdee3" stroke-width="1" stroke-dasharray="5 4.5"/></svg>
<div class="a" style="left:327px;top:996px;width:194px;height:93px;background:#f6f7f9;border-radius:0px;border-top-left-radius:5px;border-bottom-left-radius:5px;"></div>
<div class="a" style="left:350px;top:1019px;width:48px;height:48px;background:#5051f9;border-radius:24px;"></div>
<svg class="a" style="left:362px;top:1031px;" width="24" height="24" viewBox="0 0 24 24" fill="none"><path d="M7 3.5v17l13-8.5z" stroke="#fff" stroke-width="1.9" stroke-linejoin="round"/></svg>
<div class="t " style="left:414px;top:1022.5px;font-size:14px;line-height:17px;color:#3b4154;letter-spacing:1.1px;-webkit-text-stroke:0.15px;">Start from</div>
<svg class="a" style="left:412px;top:1047px;color:#8e919d;" width="15" height="15" viewBox="0 0 24 24" fill="none" stroke="currentColor" stroke-width="1.8" stroke-linecap="round" stroke-linejoin="round"><circle cx="12" cy="12" r="9"/><path d="M12 7.5v4.5l3 2"/></svg>
<div class="t " style="left:431px;top:1046.5px;font-size:14px;line-height:17px;color:#9b9eaa;letter-spacing:0.75px;">16:00 pm</div>
<div class="t " style="left:546px;top:1021.5px;font-size:16px;line-height:19px;color:#3b4154;letter-spacing:0.95px;-webkit-text-stroke:0.15px;">Prototype Project</div>
<svg class="a" style="left:543px;top:1044px;" width="22" height="22" viewBox="0 0 24 24" fill="none"><path d="M3.5 19.5l1.3-4A8 7.5 0 1 1 8 18.2z" stroke="#8e919d" stroke-width="1.4" stroke-linejoin="round"/></svg>
<div class="t " style="left:566px;top:1046.5px;font-size:14px;line-height:17px;color:#9b9eaa;letter-spacing:0.75px;">4 comments</div>
<div class="t " style="left:803px;top:1023.5px;font-size:16px;line-height:19px;color:#3b4154;letter-spacing:0.6px;">22%</div>
<div class="t " style="left:844px;top:1024.5px;font-size:14px;line-height:17px;color:#3b4154;letter-spacing:0.75px;">complete</div>
<div class="a" style="left:803px;top:1059px;width:130px;height:5px;background:#eceef1;border-radius:3px;"></div>
<div class="a" style="left:803px;top:1059px;width:82px;height:5px;background:#fbb72c;border-radius:3px;"></div>
<div class="a" style="left:1001px;top:1024px;width:130px;height:38px;background:#dcdcfc;border-radius:6px;"></div>
<div class="t " style="left:766px;width:600px;text-align:center;top:1034.5px;font-size:14px;line-height:17px;color:#5051f9;letter-spacing:0.6px;">Detail</div>
<div class="a" style="left:294px;top:1155px;width:1356px;height:553px;background:#ffffff;border-radius:8px;box-shadow:0 0 0 1px rgba(228,228,232,.28), 0 0 12px rgba(50,50,60,.045);"></div>
<div class="t " style="left:326px;top:1186.0px;font-size:17px;line-height:20px;color:#3b4154;letter-spacing:0.55px;-webkit-text-stroke:0.2px;">Projects Timeline</div>
<div class="a" style="left:1600.5px;top:1194px;width:4.5px;height:4.5px;background:#74777f;border-radius:3px;"></div>
<div class="a" style="left:1607.5px;top:1194px;width:4.5px;height:4.5px;background:#74777f;border-radius:3px;"></div>
<div class="a" style="left:1614.5px;top:1194px;width:4.5px;height:4.5px;background:#74777f;border-radius:3px;"></div>
<div class="t " style="left:326px;top:1222.5px;font-size:14px;line-height:17px;color:#9b9eaa;letter-spacing:0.7px;">Apr 9</div>
<div class="t " style="left:248px;width:600px;text-align:center;top:1222.5px;font-size:14px;line-height:17px;color:#9b9eaa;letter-spacing:0.7px;">Apr 10</div>
<div class="t " style="left:456px;width:600px;text-align:center;top:1222.5px;font-size:14px;line-height:17px;color:#9b9eaa;letter-spacing:0.7px;">Apr 11</div>
<div class="t " style="left:664px;width:600px;text-align:center;top:1222.5px;font-size:14px;line-height:17px;color:#9b9eaa;letter-spacing:0.7px;">Apr 12</div>
<div class="t " style="left:872px;width:600px;text-align:center;top:1222.5px;font-size:14px;line-height:17px;color:#9b9eaa;letter-spacing:0.7px;">Apr 13</div>
<div class="t " style="left:1083px;width:600px;text-align:center;top:1222.5px;font-size:14px;line-height:17px;color:#9b9eaa;letter-spacing:0.7px;">Apr 14</div>
<div class="t " style="left:1017px;width:600px;text-align:right;top:1222.5px;font-size:14px;line-height:17px;color:#9b9eaa;letter-spacing:0.7px;">Apr 15</div>
<svg class="a" style="left:341.0px;top:1252px" width="1" height="422" fill="none"><line x1="0.5" y1="0" x2="0.5" y2="422" stroke="#e0e1e6" stroke-width="1" stroke-dasharray="5.5 4.5"/></svg>
<svg class="a" style="left:548.0px;top:1252px" width="1" height="422" fill="none"><line x1="0.5" y1="0" x2="0.5" y2="422" stroke="#e0e1e6" stroke-width="1" stroke-dasharray="5.5 4.5"/></svg>
<svg class="a" style="left:756.0px;top:1252px" width="1" height="422" fill="none"><line x1="0.5" y1="0" x2="0.5" y2="422" stroke="#e0e1e6" stroke-width="1" stroke-dasharray="5.5 4.5"/></svg>
<svg class="a" style="left:964.0px;top:1252px" width="1" height="422" fill="none"><line x1="0.5" y1="0" x2="0.5" y2="422" stroke="#e0e1e6" stroke-width="1" stroke-dasharray="5.5 4.5"/></svg>
<svg class="a" style="left:1172.0px;top:1252px" width="1" height="422" fill="none"><line x1="0.5" y1="0" x2="0.5" y2="422" stroke="#e0e1e6" stroke-width="1" stroke-dasharray="5.5 4.5"/></svg>
<svg class="a" style="left:1383.0px;top:1252px" width="1" height="422" fill="none"><line x1="0.5" y1="0" x2="0.5" y2="422" stroke="#e0e1e6" stroke-width="1" stroke-dasharray="5.5 4.5"/></svg>
<svg class="a" style="left:1594.0px;top:1252px" width="1" height="422" fill="none"><line x1="0.5" y1="0" x2="0.5" y2="422" stroke="#e0e1e6" stroke-width="1" stroke-dasharray="5.5 4.5"/></svg>
<div class="a" style="left:341px;top:1301px;width:406px;height:50px;background:#5051f9;border-radius:25px;"></div>
<div class="a" style="left:344px;top:1304px;width:44px;height:44px;border-radius:50%;overflow:hidden;border:2px solid #f4f4f6;box-sizing:border-box"><svg width="40" height="40" viewBox="10 8 80 80" style="display:block"><rect width="100" height="100" fill="#ebebeb"/><path d="M10 104 C12 84 30 76 50 75 C70 76 88 84 90 104z" fill="#f3f3f3"/><path d="M41 56 h18 v20 c-4 4-14 4-18 0z" fill="#e5b08e" opacity=".85"/><ellipse cx="50" cy="46" rx="16" ry="21" fill="#e5b08e"/><path d="M33 44 C30 24 42 18 52 18 C65 18 71 27 68 45 C66 34 62 31 50 31 C40 31 35 35 33 44z" fill="#2a1b14"/><circle cx="44" cy="45" r="1.6" fill="#3a2a22"/><circle cx="56" cy="45" r="1.6" fill="#3a2a22"/><path d="M44 56 q6 4 12 0" stroke="#b5615a" stroke-width="2" fill="none" stroke-linecap="round"/></svg></div>
<div class="t " style="left:399px;top:1317.5px;font-size:14px;line-height:17px;color:#ffffff;letter-spacing:0.8px;">Research</div>
<div class="t " style="left:131.39999999999998px;width:600px;text-align:right;top:1317.5px;font-size:14px;line-height:17px;color:#ffffff;letter-spacing:0.36px;-webkit-text-stroke:0.1px;">SEO</div>
<div class="a" style="left:964px;top:1301px;width:630px;height:50px;background:#0ea5e9;border-radius:25px;"></div>
<div class="a" style="left:967px;top:1304px;width:44px;height:44px;border-radius:50%;overflow:hidden;border:2px solid #f4f4f6;box-sizing:border-box"><svg width="40" height="40" viewBox="10 8 80 80" style="display:block"><rect width="100" height="100" fill="#ececec"/><path d="M20 92 C16 60 22 22 50 18 C78 22 84 60 80 92z" fill="#c9a06e"/><path d="M10 104 C12 84 30 76 50 75 C70 76 88 84 90 104z" fill="#efe9e3"/><path d="M41 56 h18 v20 c-4 4-14 4-18 0z" fill="#f0c6a8" opacity=".85"/><ellipse cx="50" cy="46" rx="16" ry="21" fill="#f0c6a8"/><path d="M34 48 C32 26 42 20 51 20 C62 20 70 28 66 48 C62 36 56 30 48 30 C42 33 37 38 34 48z" fill="#c9a06e"/><circle cx="44" cy="45" r="1.6" fill="#3a2a22"/><circle cx="56" cy="45" r="1.6" fill="#3a2a22"/><path d="M44 56 q6 4 12 0" stroke="#b5615a" stroke-width="2" fill="none" stroke-linecap="round"/></svg></div>
<div class="t " style="left:1022px;top:1317.5px;font-size:14px;line-height:17px;color:#ffffff;letter-spacing:0.8px;">Dashboard Development</div>
<div class="t " style="left:978.4000000000001px;width:600px;text-align:right;top:1317.5px;font-size:14px;line-height:17px;color:#ffffff;letter-spacing:0.36px;-webkit-text-stroke:0.1px;">DEVELOPMENT</div>
<div class="a" style="left:341px;top:1398px;width:831px;height:50px;background:#17b57c;border-radius:25px;"></div>
<div class="a" style="left:344px;top:1401px;width:44px;height:44px;border-radius:50%;overflow:hidden;border:2px solid #f4f4f6;box-sizing:border-box"><svg width="40" height="40" viewBox="10 8 80 80" style="display:block"><rect width="100" height="100" fill="#e9e9e9"/><path d="M10 104 C12 84 30 76 50 75 C70 76 88 84 90 104z" fill="#c9d8e6"/><path d="M41 56 h18 v20 c-4 4-14 4-18 0z" fill="#e9b898" opacity=".85"/><ellipse cx="50" cy="46" rx="16" ry="21" fill="#e9b898"/><path d="M33 44 C30 24 42 18 52 18 C65 18 71 27 68 45 C66 34 62 31 50 31 C40 31 35 35 33 44z" fill="#4a2e20"/><circle cx="44" cy="45" r="1.6" fill="#3a2a22"/><circle cx="56" cy="45" r="1.6" fill="#3a2a22"/><path d="M44 56 q6 4 12 0" stroke="#b5615a" stroke-width="2" fill="none" stroke-linecap="round"/></svg></div>
<div class="t " style="left:399px;top:1414.5px;font-size:14px;line-height:17px;color:#ffffff;letter-spacing:0.8px;">Logo &amp; Branding Design</div>
<div class="t " style="left:556.4000000000001px;width:600px;text-align:right;top:1414.5px;font-size:14px;line-height:17px;color:#ffffff;letter-spacing:0.36px;-webkit-text-stroke:0.1px;">DESIGN</div>
<div class="a" style="left:548px;top:1497px;width:416px;height:50px;background:#fbb72c;border-radius:25px;"></div>
<div class="a" style="left:551px;top:1500px;width:44px;height:44px;border-radius:50%;overflow:hidden;border:2px solid #f4f4f6;box-sizing:border-box"><svg width="40" height="40" viewBox="10 8 80 80" style="display:block"><rect width="100" height="100" fill="#e4e5e7"/><path d="M14 92 C10 60 16 22 50 18 C84 22 90 60 86 92z" fill="#3b2418"/><path d="M10 104 C12 84 30 76 50 75 C70 76 88 84 90 104z" fill="#f0ece8"/><path d="M41 56 h18 v20 c-4 4-14 4-18 0z" fill="#eab79a" opacity=".85"/><ellipse cx="50" cy="46" rx="16" ry="21" fill="#eab79a"/><path d="M34 48 C32 26 42 20 51 20 C62 20 70 28 66 48 C62 36 56 30 48 30 C42 33 37 38 34 48z" fill="#3b2418"/><circle cx="44" cy="45" r="1.6" fill="#3a2a22"/><circle cx="56" cy="45" r="1.6" fill="#3a2a22"/><path d="M44 56 q6 4 12 0" stroke="#b5615a" stroke-width="2" fill="none" stroke-linecap="round"/></svg></div>
<div class="t " style="left:606px;top:1513.5px;font-size:14px;line-height:17px;color:#ffffff;letter-spacing:0.8px;">iOS Front-End</div>
<div class="t " style="left:348.4px;width:600px;text-align:right;top:1513.5px;font-size:14px;line-height:17px;color:#ffffff;letter-spacing:0.36px;-webkit-text-stroke:0.1px;">MOBILE</div>
<div class="a" style="left:1174px;top:1497px;width:420px;height:50px;background:#23252c;border-radius:25px;"></div>
<div class="a" style="left:1177px;top:1500px;width:44px;height:44px;border-radius:50%;overflow:hidden;border:2px solid #f4f4f6;box-sizing:border-box"><svg width="40" height="40" viewBox="10 8 80 80" style="display:block"><rect width="100" height="100" fill="#ececec"/><path d="M10 104 C12 84 30 76 50 75 C70 76 88 84 90 104z" fill="#f1f1f1"/><path d="M41 56 h18 v20 c-4 4-14 4-18 0z" fill="#d9a382" opacity=".85"/><ellipse cx="50" cy="46" rx="16" ry="21" fill="#d9a382"/><path d="M33 44 C30 24 42 18 52 18 C65 18 71 27 68 45 C66 34 62 31 50 31 C40 31 35 35 33 44z" fill="#2f2119"/><path d="M35 50 C36 66 44 68 50 68 C56 68 64 66 65 50 C62 58 56 60 50 60 C44 60 38 58 35 50z" fill="#2f2119" opacity=".8"/><circle cx="44" cy="45" r="1.6" fill="#3a2a22"/><circle cx="56" cy="45" r="1.6" fill="#3a2a22"/><path d="M44 56 q6 4 12 0" stroke="#b5615a" stroke-width="2" fill="none" stroke-linecap="round"/></svg></div>
<div class="t " style="left:1232px;top:1513.5px;font-size:14px;line-height:17px;color:#ffffff;letter-spacing:0.8px;">Android Front-End</div>
<div class="t " style="left:978.4000000000001px;width:600px;text-align:right;top:1513.5px;font-size:14px;line-height:17px;color:#ffffff;letter-spacing:0.36px;-webkit-text-stroke:0.1px;">MOBILE</div>
<div class="a" style="left:548px;top:1594px;width:834px;height:50px;background:#5051f9;border-radius:25px;"></div>
<div class="a" style="left:551px;top:1597px;width:44px;height:44px;border-radius:50%;overflow:hidden;border:2px solid #f4f4f6;box-sizing:border-box"><svg width="40" height="40" viewBox="10 8 80 80" style="display:block"><rect width="100" height="100" fill="#e7e7e9"/><path d="M20 92 C16 60 22 22 50 18 C78 22 84 60 80 92z" fill="#6b3d22"/><path d="M10 104 C12 84 30 76 50 75 C70 76 88 84 90 104z" fill="#f4f4f4"/><path d="M41 56 h18 v20 c-4 4-14 4-18 0z" fill="#e8b89a" opacity=".85"/><ellipse cx="50" cy="46" rx="16" ry="21" fill="#e8b89a"/><path d="M34 48 C32 26 42 20 51 20 C62 20 70 28 66 48 C62 36 56 30 48 30 C42 33 37 38 34 48z" fill="#6b3d22"/><circle cx="44" cy="45" r="1.6" fill="#3a2a22"/><circle cx="56" cy="45" r="1.6" fill="#3a2a22"/><path d="M44 56 q6 4 12 0" stroke="#b5615a" stroke-width="2" fill="none" stroke-linecap="round"/></svg></div>
<div class="t " style="left:606px;top:1610.5px;font-size:14px;line-height:17px;color:#ffffff;letter-spacing:0.8px;">Web Back-End</div>
<div class="t " style="left:766.4000000000001px;width:600px;text-align:right;top:1610.5px;font-size:14px;line-height:17px;color:#ffffff;letter-spacing:0.36px;-webkit-text-stroke:0.1px;">DEVELOPMENT</div>
<div class="a" style="left:264px;top:1740px;width:1416px;height:60px;background:#ffffff;border-radius:0px;"></div>
<div class="t " style="left:295px;top:1761.5px;font-size:14px;line-height:17px;color:#9b9eaa;letter-spacing:0.8px;">2023©</div>
<div class="t " style="left:352px;top:1761.5px;font-size:14px;line-height:17px;color:#3b4154;letter-spacing:0.8px;">Qoduby</div>
<div class="t " style="left:1372px;top:1761.5px;font-size:14px;line-height:17px;color:#9b9eaa;letter-spacing:0.8px;">Support</div>
<div class="t " style="left:1459px;top:1761.5px;font-size:14px;line-height:17px;color:#9b9eaa;letter-spacing:0.8px;">License</div>
<div class="t " style="left:1543px;top:1761.5px;font-size:14px;line-height:17px;color:#9b9eaa;letter-spacing:0.8px;">Documentation</div></div>
</body></html>
